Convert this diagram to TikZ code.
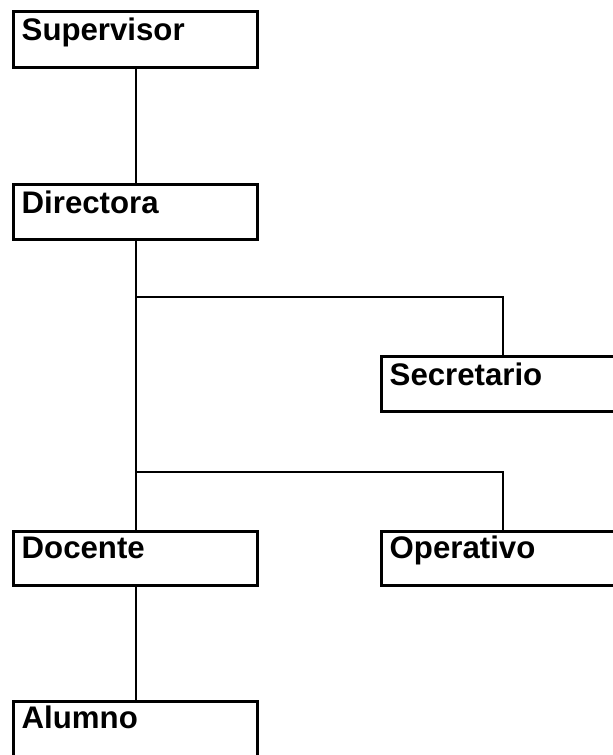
\documentclass[tikz,border=0pt]{standalone}
\usepackage{fontspec}
\setmainfont{Liberation Sans}
\begin{document}
\begin{tikzpicture}[x=1pt,y=-1pt,
  orgbox/.style={draw=black, line width=3pt, rectangle, minimum width=244pt, minimum height=#1, anchor=north west, inner sep=0pt, outer sep=0pt},
  orgbox/.default=56pt,
  widebox/.style={draw=black, line width=3pt, rectangle, minimum width=250pt, minimum height=#1, anchor=north west, inner sep=0pt, outer sep=0pt},
  widebox/.default=55pt,
  lbl/.style={font=\fontsize{31.2}{36}\selectfont\bfseries, anchor=base west, inner sep=0pt},
  conn/.style={draw=black, line width=2pt, line cap=rect}]
\clip (0,0) rectangle (613,755);
\fill[white] (0,0) rectangle (613,755);
% boxes
\node[orgbox] (sup) at (13.5,11.5) {};
\node[orgbox=55pt] (dir) at (13.5,184.5) {};
\node[widebox] (sec) at (381.5,356.5) {};
\node[orgbox=54pt] (doc) at (13.5,531.5) {};
\node[widebox=54pt] (ope) at (381.5,531.5) {};
\node[orgbox=70pt] (alu) at (13.5,701.5) {};
% labels
\node[lbl] (supt) at ([xshift=8pt,yshift=-29pt]sup.north west) {Supervisor};
\node[lbl] (dirt) at ([xshift=8pt,yshift=-29pt]dir.north west) {Directora};
\node[lbl] (sect) at ([xshift=8pt,yshift=-29pt]sec.north west) {Secretario};
\node[lbl] (doct) at ([xshift=8pt,yshift=-27pt]doc.north west) {Docente};
\node[lbl] (opet) at ([xshift=8pt,yshift=-27pt]ope.north west) {Operativo};
\node[lbl] (alut) at ([xshift=8pt,yshift=-27pt]alu.north west) {Alumno};
% junctions
\coordinate (j1) at (135.5,297);
\coordinate (k1) at (503,297);
\coordinate (j2) at (135.5,472);
\coordinate (k2) at (503,472);
% connectors
\draw[conn] (sup.south) -- (dir.north);
\draw[conn] (dir.south) -- (doc.north);
\draw[conn] (doc.south) -- (alu.north);
\draw[conn] (j1) -- (k1) -- (k1 |- sec.north);
\draw[conn] (j2) -- (k2) -- (k2 |- ope.north);
\end{tikzpicture}
\end{document}
